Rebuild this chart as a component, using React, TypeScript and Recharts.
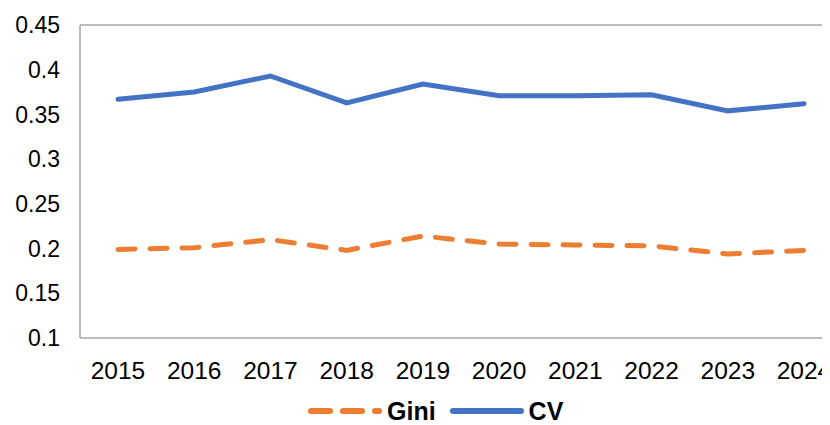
import React from "react";
import { LineChart, Line, XAxis, YAxis, Legend, ReferenceLine } from "recharts";

const years = ["2015", "2016", "2017", "2018", "2019", "2020", "2021", "2022", "2023", "2024"];
const giniValues = [0.199, 0.201, 0.21, 0.198, 0.214, 0.205, 0.204, 0.203, 0.194, 0.198];
const cvValues = [0.367, 0.375, 0.393, 0.363, 0.384, 0.371, 0.371, 0.372, 0.354, 0.362];
const yTicks = [0.1, 0.15, 0.2, 0.25, 0.3, 0.35, 0.4, 0.45];

const ORANGE = "#ED7D31";
const BLUE = "#4472C4";
const BORDER = "#A6A6A6";
const FONT = "'Liberation Sans', Arial, sans-serif";

const data = years.map((y, i) => ({ year: y, Gini: giniValues[i], CV: cvValues[i] }));

function fmtTick(v: number) {
  return String(Number(v.toFixed(2)));
}

// legend drawn by hand so the dash sample looks like the excel one
function ChartLegend() {
  const item = (label: string, color: string, dashed: boolean) => (
    <div style={{ display: "flex", alignItems: "center", marginRight: 14 }}>
      <svg width={74} height={12} style={{ display: "block" }}>
        <line
          x1={3}
          y1={6}
          x2={71}
          y2={6}
          stroke={color}
          strokeWidth={6}
          strokeLinecap="round"
          strokeDasharray={dashed ? "19 13" : undefined}
        />
      </svg>
      <span style={{ marginLeft: 5, fontWeight: 700, fontSize: 25, color: "#000", lineHeight: "28px" }}>
        {label}
      </span>
    </div>
  );
  return (
    <div style={{ display: "flex", paddingLeft: 300, height: 28, fontFamily: FONT }}>
      {item("Gini", ORANGE, true)}
      {item("CV", BLUE, false)}
    </div>
  );
}

export default function App() {
  return (
    <div style={{ width: 822, height: 417, overflow: "hidden", fontFamily: FONT }}>
      <LineChart width={840} height={417} data={data} margin={{ top: 17, right: 6, left: 0, bottom: 0 }}>
        <XAxis
          dataKey="year"
          padding={{ left: 38, right: 38 }}
          height={59}
          axisLine={{ stroke: BORDER, strokeWidth: 1.5 }}
          tickLine={false}
          tickMargin={18}
          tick={{ fontSize: 24.5, fill: "#000", fontFamily: FONT }}
          interval={0}
        />
        <YAxis
          domain={[0.1, 0.45]}
          ticks={yTicks}
          width={72}
          axisLine={{ stroke: BORDER, strokeWidth: 1.5 }}
          tickLine={false}
          tickMargin={14}
          tickFormatter={fmtTick}
          tick={{ fontSize: 23, fill: "#000", fontFamily: FONT }}
        />
        <ReferenceLine y={0.45} stroke={BORDER} strokeWidth={1.5} />
        <Legend verticalAlign="bottom" content={() => <ChartLegend />} wrapperStyle={{ left: 0, width: 840 }} />
        <Line
          type="linear"
          dataKey="Gini"
          stroke={ORANGE}
          strokeWidth={5}
          strokeDasharray="17 15"
          strokeLinecap="round"
          dot={false}
          activeDot={false}
          isAnimationActive={false}
        />
        <Line
          type="linear"
          dataKey="CV"
          stroke={BLUE}
          strokeWidth={5}
          strokeLinecap="round"
          dot={false}
          activeDot={false}
          isAnimationActive={false}
        />
      </LineChart>
    </div>
  );
}
